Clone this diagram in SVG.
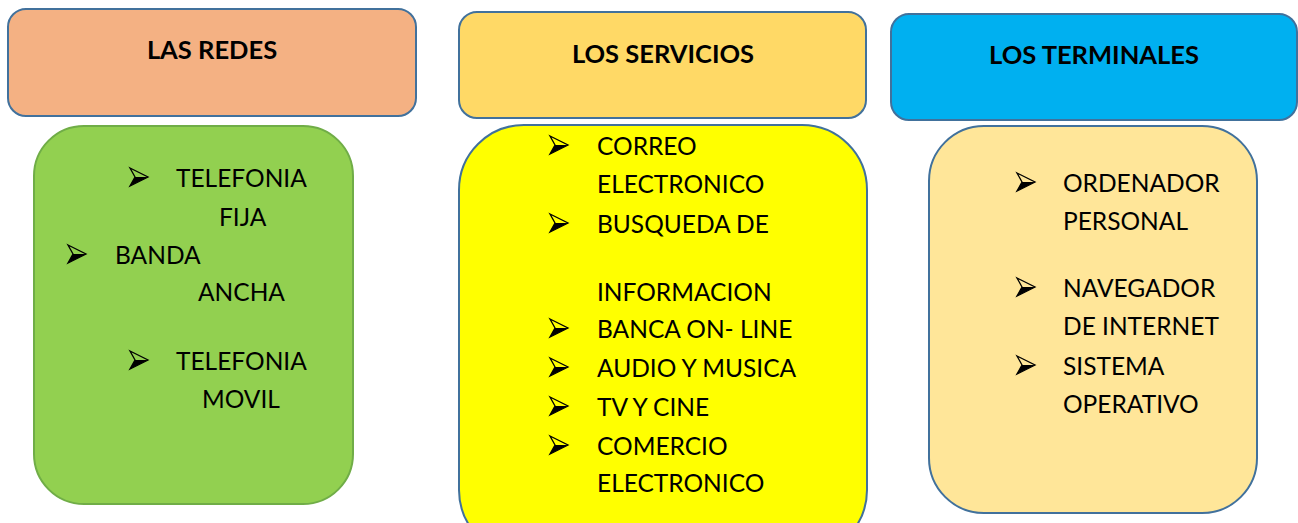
<svg xmlns="http://www.w3.org/2000/svg" xmlns:xlink="http://www.w3.org/1999/xlink" width="1298" height="523" viewBox="0 0 1298 523">
<style>
.hdr{stroke:#41719C;stroke-width:2}
.t{font-family:Lato,"Liberation Sans",sans-serif;font-size:24.5px;fill:#000}
.h{font-family:Lato,"Liberation Sans",sans-serif;font-size:25.5px;font-weight:bold;fill:#000;text-anchor:middle}
</style>
<defs>
<g id="bul">
<path d="M0,-9 L18,0 L0,9 L5,0 Z" fill="none" stroke="#000" stroke-width="1.3" stroke-linejoin="miter"/>
<path d="M5,0 L18,0 L0,9 Z" fill="#000"/>
</g>
</defs>
<rect width="1298" height="523" fill="#fff"/>
<g id="redes-head"><rect class="hdr" x="8" y="9" width="408" height="107" rx="18" fill="#F4B183"/><text class="h" x="212" y="59">LAS REDES</text></g>
<g id="servicios-head"><rect class="hdr" x="459" y="12" width="407" height="106" rx="18" fill="#FFD966"/><text class="h" x="663" y="63">LOS SERVICIOS</text></g>
<g id="terminales-head"><rect class="hdr" x="891" y="14" width="406" height="106" rx="18" fill="#00B0F0"/><text class="h" x="1094" y="64">LOS TERMINALES</text></g>
<g id="redes-body">
<rect x="34" y="126" width="319" height="378" rx="50" fill="#92D050" stroke="#70AD47" stroke-width="2"/>
<use xlink:href="#bul" x="130" y="177"/><text class="t" x="176" y="187">TELEFONIA</text>
<text class="t" x="219" y="226">FIJA</text>
<use xlink:href="#bul" x="68" y="254"/><text class="t" x="115" y="264">BANDA</text>
<text class="t" x="198" y="301">ANCHA</text>
<use xlink:href="#bul" x="130" y="360"/><text class="t" x="176" y="370">TELEFONIA</text>
<text class="t" x="202" y="408">MOVIL</text>
</g>
<g id="servicios-body">
<rect x="459" y="125" width="408" height="430" rx="65" fill="#FFFF00" stroke="#41719C" stroke-width="2"/>
<use xlink:href="#bul" x="550" y="145"/><text class="t" x="597" y="155">CORREO</text>
<text class="t" x="597" y="193">ELECTRONICO</text>
<use xlink:href="#bul" x="550" y="223"/><text class="t" x="597" y="233">BUSQUEDA DE</text>
<text class="t" x="597" y="301">INFORMACION</text>
<use xlink:href="#bul" x="550" y="328"/><text class="t" x="597" y="338">BANCA ON- LINE</text>
<use xlink:href="#bul" x="550" y="367"/><text class="t" x="597" y="377">AUDIO Y MUSICA</text>
<use xlink:href="#bul" x="550" y="406"/><text class="t" x="597" y="416">TV Y CINE</text>
<use xlink:href="#bul" x="550" y="445"/><text class="t" x="597" y="455">COMERCIO</text>
<text class="t" x="597" y="492">ELECTRONICO</text>
</g>
<g id="terminales-body">
<rect x="929" y="126" width="328" height="387" rx="55" fill="#FFE699" stroke="#41719C" stroke-width="2"/>
<use xlink:href="#bul" x="1017" y="182"/><text class="t" x="1063" y="192">ORDENADOR</text>
<text class="t" x="1063" y="230">PERSONAL</text>
<use xlink:href="#bul" x="1017" y="287"/><text class="t" x="1063" y="297">NAVEGADOR</text>
<text class="t" x="1063" y="335">DE INTERNET</text>
<use xlink:href="#bul" x="1017" y="365"/><text class="t" x="1063" y="375">SISTEMA</text>
<text class="t" x="1063" y="413">OPERATIVO</text>
</g>
<g id="connectors"/>
</svg>
